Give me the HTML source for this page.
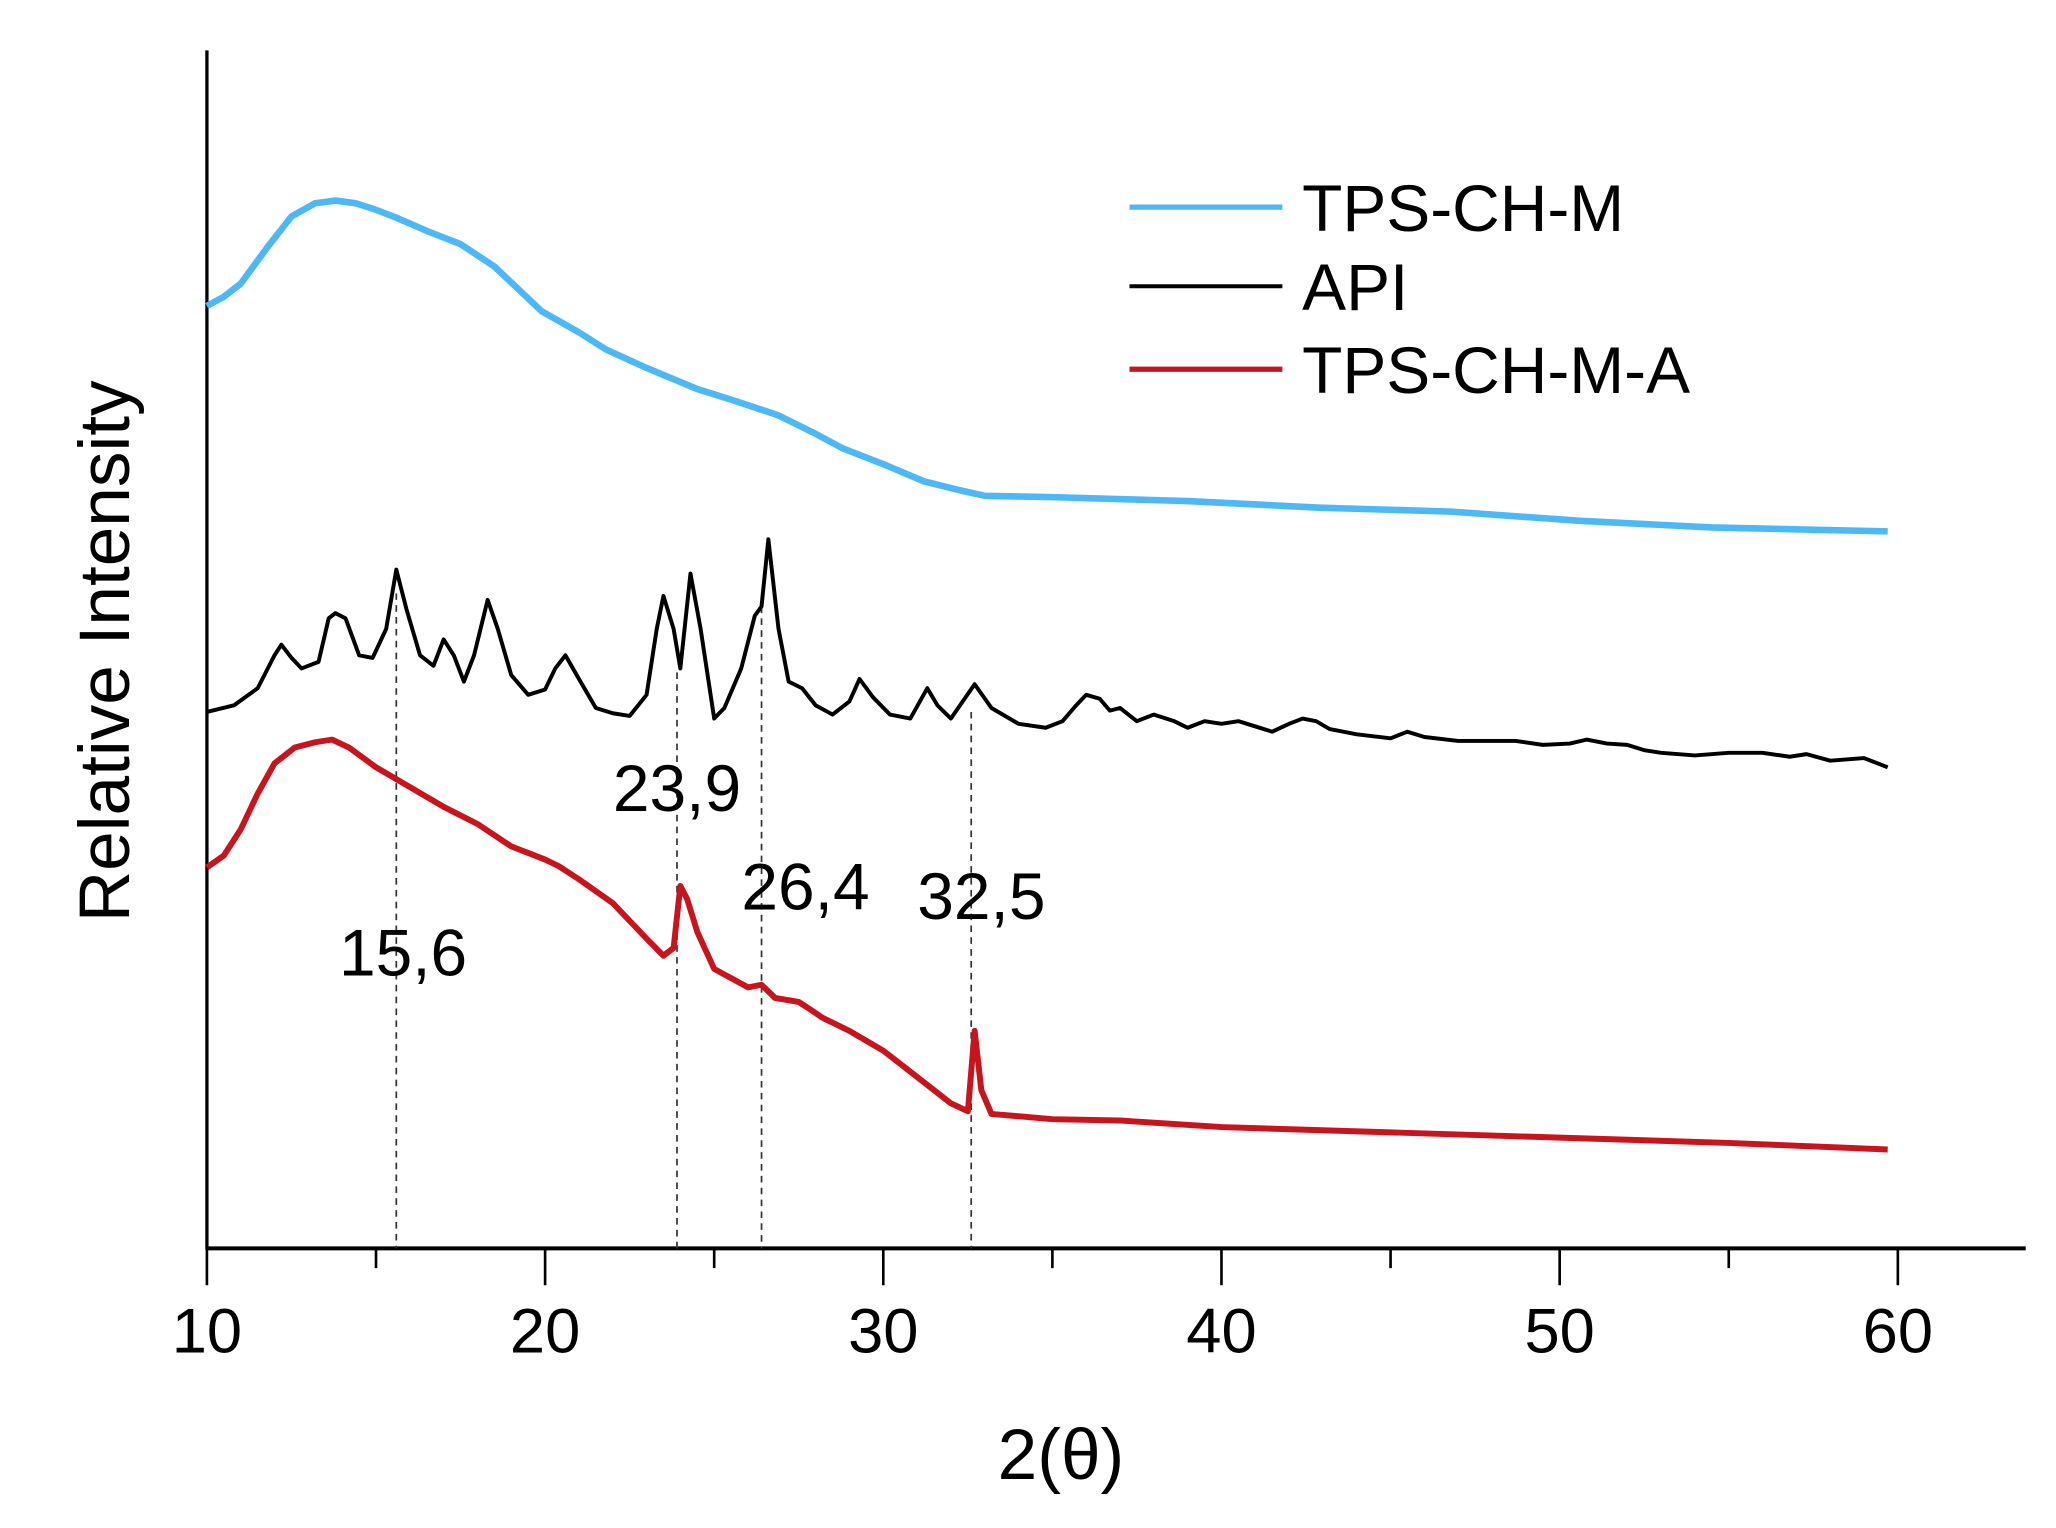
<!DOCTYPE html>
<html><head><meta charset="utf-8"><style>
html,body{margin:0;padding:0;background:#fff;}
svg{display:block;font-family:"Liberation Sans",sans-serif;}
</style></head><body>
<svg id="chart" width="2056" height="1528" viewBox="0 0 1560 1159" xmlns="http://www.w3.org/2000/svg">
<g id="plot"></g>
<text x="805" y="1122" font-size="54" text-anchor="middle">2(θ)</text>
<text transform="translate(98,494) rotate(-90)" font-size="54" text-anchor="middle">Relative Intensity</text>
<g>
<line x1="857" y1="157" x2="973" y2="157" stroke="#4db8f5" stroke-width="4"/>
<text x="988" y="175" font-size="50">TPS-CH-M</text>
<line x1="857" y1="217" x2="973" y2="217" stroke="#000" stroke-width="3"/>
<text x="988" y="235" font-size="50">API</text>
<line x1="857" y1="280" x2="973" y2="280" stroke="#c8141c" stroke-width="4"/>
<text x="988" y="298" font-size="50">TPS-CH-M-A</text>
</g>
</svg>
<script>
// x values in 2θ; intensities in arbitrary units (0 = x-axis)
const xTicks = [10,20,30,40,50,60];
const xMinor = [15,25,35,45,55];
const blueX = [10,10.5,11,11.8,12.5,13.2,13.8,14.4,15,15.6,16.5,17.5,18.5,19.9,21,21.8,23,24.5,25.5,26.9,28,28.8,30,31.2,32.3,33,35,39,42.9,46.8,50.6,54.5,59.7];
const blueY = [715,722,732,760,783,793,795,793,788,782,772,762,745,711,695,682,668,652,644,632,618,607,595,582,575,571,570,567,562,559,552,547,544];
const apiX = [10,10.8,11.5,12,12.2,12.5,12.8,13.3,13.6,13.8,14.1,14.5,14.9,15.3,15.6,15.9,16.3,16.7,17,17.3,17.6,17.9,18.3,18.6,19,19.5,20,20.3,20.6,21,21.5,22,22.5,23,23.3,23.5,23.8,24,24.3,24.6,25,25.3,25.8,26.2,26.4,26.6,26.9,27.2,27.6,28,28.5,29,29.3,29.7,30.2,30.8,31.3,31.6,32,32.7,33.2,34,34.8,35.3,35.7,36,36.4,36.7,37,37.5,38,38.6,39,39.5,40,40.5,41,41.5,42,42.4,42.8,43.2,44,45,45.5,46,47,48,48.7,49.5,50.3,50.8,51.4,52,52.5,53,54,55,56,56.8,57.3,58,59,59.7];
const apiY = [407,412,425,450,458,448,440,445,478,482,478,450,448,470,515,485,450,442,462,450,430,450,492,470,435,420,424,440,450,432,410,406,404,420,470,495,470,440,512,470,402,410,440,480,487,538,470,430,425,412,405,415,432,418,405,402,425,412,402,428,410,398,395,400,412,420,417,408,410,400,405,400,395,400,398,400,396,392,398,402,400,394,390,387,392,388,385,385,385,382,383,386,383,382,378,376,374,376,376,373,375,370,372,365];
const redX = [10,10.5,11,11.5,12,12.6,13.2,13.7,14.2,15,16,17,18,19,20,20.4,21,22,23,23.5,23.8,24,24.2,24.5,25,26,26.4,26.8,27.5,27.8,28.2,29,30,31,32,32.5,32.7,32.9,33.2,35,37,40,45,50,55,59.7];
const redY = [289,298,318,345,368,380,384,386,380,365,350,335,322,305,295,290,280,262,235,222,228,275,265,240,212,198,200,190,187,182,175,165,150,130,110,104,165,120,102,98,97,92,88,84,80,75];
const dashX = [15.6,23.9,26.4,32.6];
const dashTop = [497,437,487,407];
const peakLabels = ["15,6","23,9","26,4","32,5"];
const labelX = [15.8,23.9,27.7,32.9];
const labelY = [207,332,257,250];

const xs = v => 157 + (v-10)*25.66;
const ys = v => 947 - v;
const NS = "http://www.w3.org/2000/svg";
const plot = document.getElementById('plot');
function mk(tag, attrs){const e=document.createElementNS(NS,tag);for(const k in attrs)e.setAttribute(k,attrs[k]);plot.appendChild(e);return e;}

let e = mk('line',{x1:157,y1:38,x2:157,y2:948,stroke:'#000','stroke-width':2.5});


e = mk('line',{x1:156,y1:947,x2:1537,y2:947,stroke:'#000','stroke-width':3});


xTicks.forEach(t=>{
  const l = mk('line',{x1:xs(t),y1:947,x2:xs(t),y2:975,stroke:'#000','stroke-width':2});
  
  
  const tx = mk('text',{x:xs(t),y:1026,'font-size':48,'text-anchor':'middle'});
  tx.textContent = t;
  
  
});
xMinor.forEach(t=>{
  const l = mk('line',{x1:xs(t),y1:947,x2:xs(t),y2:962,stroke:'#000','stroke-width':2});
  
  
});
dashX.forEach((d,i)=>{
  const l = mk('line',{x1:xs(d),y1:ys(dashTop[i]),x2:xs(d),y2:947,stroke:'#333','stroke-width':1.3,'stroke-dasharray':'5,4'});
  
  
});
function series(X,Y,color,w,name){
  let d='';X.forEach((x,i)=>{d+=(i?'L':'M')+xs(x).toFixed(1)+','+ys(Y[i]).toFixed(1);});
  const p = mk('path',{d:d,fill:'none',stroke:color,'stroke-width':w,'stroke-linejoin':'round'});
  
  
}
series(blueX,blueY,'#4db8f5',5,'series-tps-ch-m');
series(apiX,apiY,'#000',3,'series-api');
series(redX,redY,'#c8141c',4.5,'series-tps-ch-m-a');
peakLabels.forEach((s,i)=>{
  const t = mk('text',{x:xs(labelX[i]),y:ys(labelY[i]),'font-size':50,'text-anchor':'middle'});
  t.textContent = s;
  
  
});
</script>
</body></html>
